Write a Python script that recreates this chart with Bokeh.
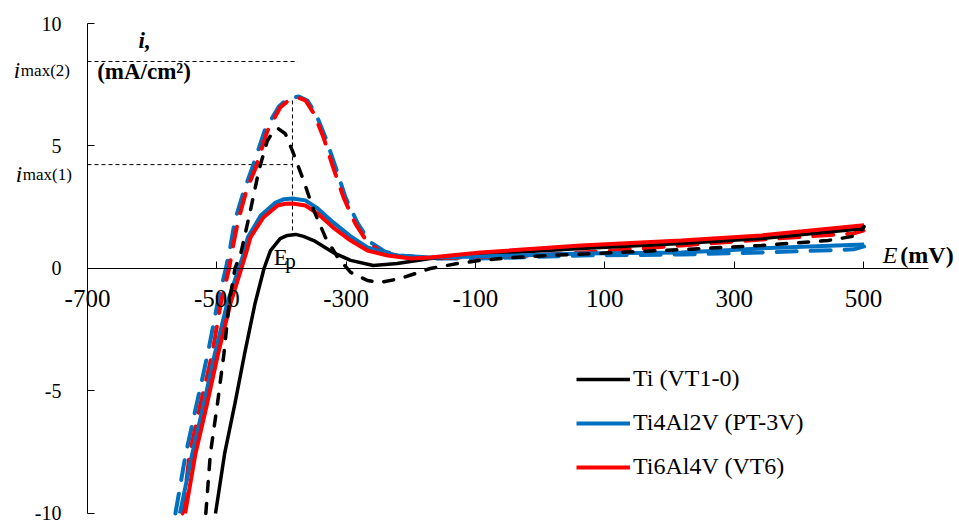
from bokeh.plotting import figure
from bokeh.models import Range1d, FixedTicker, Label, Legend, LegendItem
from bokeh.embed import file_html
from bokeh.resources import INLINE

# ---------------- data (E in mV, i in mA/cm2) ----------------
x_ticks = [-700, -500, -300, -100, 100, 300, 500]
x_tick_labels = ["-700", "-500", "-300", "-100", "100", "300", "500"]
y_ticks = [-10, -5, 0, 5, 10]
y_tick_labels = ["-10", "-5", "0", "5", "10"]
x_axis_span = (-700, 600)
y_axis_span = (-10, 10)

# Ti (VT1-0), solid
E_ti = [-502, -488, -472, -457, -441, -427, -417, -402, -391, -378, -366, -350, -335,
        -320, -293, -258, -221, -170, -92, 63, 218, 341, 501]
i_ti = [-10, -7.57, -5.52, -3.48, -1.44, 0, 0.73, 1.22, 1.35, 1.39, 1.31, 1.14, 0.9,
        0.65, 0.33, 0.12, 0.2, 0.41, 0.57, 0.82, 1.02, 1.22, 1.63]

# Ti (VT1-0), dashed
E_ti_d = [-517, -510, -499, -489, -481, -472, -463, -448, -435, -422, -413, -405, -394,
          -383, -366, -350, -332, -313, -293, -267, -247, -216, -170, -128, -92, -41, 12,
          187, 342, 445, 481, 492, 501]
i_ti_d = [-10, -7.57, -5.52, -3.48, -1.44, 0, 0.6, 2.37, 4.0, 5.2, 5.6, 5.71, 5.5,
          4.8, 3.6, 2.37, 1.27, 0.45, -0.16, -0.49, -0.57, -0.41, 0.0, 0.2, 0.33, 0.45, 0.53,
          0.73, 0.94, 1.14, 1.3, 1.39, 1.71]

# Ti4Al2V (PT-3V), solid
E_pt = [-557, -538, -520, -503, -484, -466, -459, -452, -432, -409, -396, -383, -363,
        -344, -320, -293, -267, -236, -220, -170, -92, 63, 218, 342, 501]
i_pt = [-10, -7.57, -5.52, -3.48, -1.44, 0, 0.55, 1.27, 2.16, 2.69, 2.83, 2.86, 2.78,
        2.45, 1.88, 1.31, 0.86, 0.61, 0.53, 0.45, 0.49, 0.61, 0.65, 0.82, 0.98]

# Ti4Al2V (PT-3V), dashed
E_pt_d = [-564, -548, -531, -514, -499, -486, -479, -472, -459, -445, -426, -404, -390,
          -373, -360, -347, -332, -316, -301, -282, -264, -240, -216, -170, -92, 63, 218,
          342, 485, 501]
i_pt_d = [-10, -7.57, -5.52, -3.48, -1.44, 0, 0.9, 1.96, 3.1, 4.12, 5.63, 6.61, 6.94,
          7.02, 6.86, 6.33, 5.35, 4.12, 2.9, 1.84, 1.1, 0.69, 0.53, 0.41, 0.41, 0.53, 0.57,
          0.65, 0.78, 0.9]

# Ti6Al4V (VT6), solid
E_vt6 = [-549, -533, -515, -498, -479, -462, -455, -448, -428, -406, -394, -383, -363,
         -344, -320, -293, -267, -236, -200, -170, -92, 63, 218, 342, 501]
i_vt6 = [-10, -7.57, -5.52, -3.48, -1.44, 0, 0.6, 1.27, 2.08, 2.57, 2.64, 2.65, 2.57,
         2.24, 1.67, 1.14, 0.73, 0.53, 0.41, 0.45, 0.65, 0.94, 1.14, 1.35, 1.76]

# Ti6Al4V (VT6), dashed
E_vt6_d = [-553, -542, -525, -507, -494, -481, -475, -467, -454, -440, -422, -402, -389,
           -375, -363, -350, -335, -320, -304, -286, -267, -244, -221, -170, -15, 114, 218,
           342, 485, 500]
i_vt6_d = [-10, -7.57, -5.52, -3.48, -1.44, 0, 0.9, 1.96, 3.2, 4.1, 5.6, 6.57, 6.86,
           6.98, 6.86, 6.33, 5.35, 4.12, 2.9, 1.84, 1.06, 0.65, 0.53, 0.41, 0.53, 0.73, 0.94,
           1.18, 1.43, 1.55]

legend_labels = ["Ti (VT1-0)", "Ti4Al2V (PT-3V)", "Ti6Al4V (VT6)"]

# marked characteristic values
E_p = -383          # peak potential
E_imax2_end = -375
i_max1 = 4.24
i_max2 = 8.45
i_ep_top = 6.86
i_ep_bottom = 1.5

BLACK = "#000000"
BLUE = "#0070C0"
RED = "#FF0000"
SERIF = "Liberation Serif"

# visible window (the axes are fixed inside it, so texts outside the axes stay visible)
view_x = (-834.5, 648.5)
view_y = (-10.33, 10.94)

p = figure(width=959, height=521, output_backend="svg", toolbar_location=None,
           x_range=Range1d(*view_x), y_range=Range1d(*view_y),
           min_border_left=0, min_border_right=0, min_border_top=0, min_border_bottom=0)
p.outline_line_color = None
p.grid.visible = False
p.background_fill_color = "white"
p.border_fill_color = "white"

xa = p.xaxis[0]
xa.fixed_location = 0
xa.bounds = x_axis_span
xa.ticker = FixedTicker(ticks=x_ticks)
xa.major_label_overrides = dict(zip(x_ticks, x_tick_labels))
xa.major_tick_in = 7
xa.major_tick_out = 0
xa.minor_tick_in = 0
xa.minor_tick_out = 0
xa.axis_line_color = BLACK
xa.major_tick_line_color = BLACK
xa.major_label_text_font = SERIF
xa.major_label_text_font_size = "25px"
xa.major_label_text_color = BLACK
xa.major_label_standoff = 22

ya = p.yaxis[0]
ya.fixed_location = x_axis_span[0]
ya.bounds = y_axis_span
ya.ticker = FixedTicker(ticks=y_ticks)
ya.major_label_overrides = dict(zip(y_ticks, y_tick_labels))
ya.major_tick_in = 7
ya.major_tick_out = 0
ya.minor_tick_in = 0
ya.minor_tick_out = 0
ya.axis_line_color = BLACK
ya.major_tick_line_color = BLACK
ya.major_label_text_font = SERIF
ya.major_label_text_font_size = "20px"
ya.major_label_text_color = BLACK
ya.major_label_standoff = 26

# reference dashed guide lines
p.line([x_axis_span[0], E_imax2_end], [i_max2, i_max2], line_color=BLACK, line_width=1, line_dash="4 3")
p.line([x_axis_span[0], E_p], [i_max1, i_max1], line_color=BLACK, line_width=1, line_dash="4 3")
p.line([E_p, E_p], [i_ep_top, i_ep_bottom], line_color=BLACK, line_width=1, line_dash="4 3")

# curves
p.line(E_pt_d, i_pt_d, line_color=BLUE, line_width=4, line_dash="20 14", line_cap="round")
p.line(E_vt6_d, i_vt6_d, line_color=RED, line_width=4, line_dash="20 14", line_cap="round")
r_ti = p.line(E_ti, i_ti, line_color=BLACK, line_width=3.5)
r_pt = p.line(E_pt, i_pt, line_color=BLUE, line_width=4)
r_vt6 = p.line(E_vt6, i_vt6, line_color=RED, line_width=4)
p.line(E_ti_d, i_ti_d, line_color=BLACK, line_width=3.5, line_dash="10 12", line_cap="round")

legend = Legend(items=[LegendItem(label=legend_labels[0], renderers=[r_ti]),
                       LegendItem(label=legend_labels[1], renderers=[r_pt]),
                       LegendItem(label=legend_labels[2], renderers=[r_vt6])],
                location=(576, 41), glyph_width=54, glyph_height=24, label_height=24,
                spacing=17, padding=0, margin=0, label_standoff=3,
                border_line_color=None, background_fill_alpha=0,
                label_text_font=SERIF, label_text_font_size="24px", label_text_color=BLACK)
p.add_layout(legend)

def lab(x, y, text, size, style="normal", align="left"):
    p.add_layout(Label(x=x, y=y, text=text, text_font=SERIF, text_font_size=size,
                       text_font_style=style, text_color=BLACK, text_align=align,
                       text_baseline="alphabetic"))

lab(-814, 8.08, "i", "23px", "italic")
lab(-803, 8.08, "max(2)", "17px")
lab(-811, 3.84, "i", "23px", "italic")
lab(-800, 3.84, "max(1)", "17px")
lab(-621, 9.31, "i,", "23px", "bold italic")
lab(-685, 8.04, "(mA/cm²)", "23px", "bold")
lab(-412, 0.45, "E", "23px")
lab(-394, 0.30, "p", "21px")
lab(530, 0.53, "E", "24px", "italic")
lab(557, 0.53, "(mV)", "24px", "bold")

open("out.html", "w").write(file_html(p, INLINE))
